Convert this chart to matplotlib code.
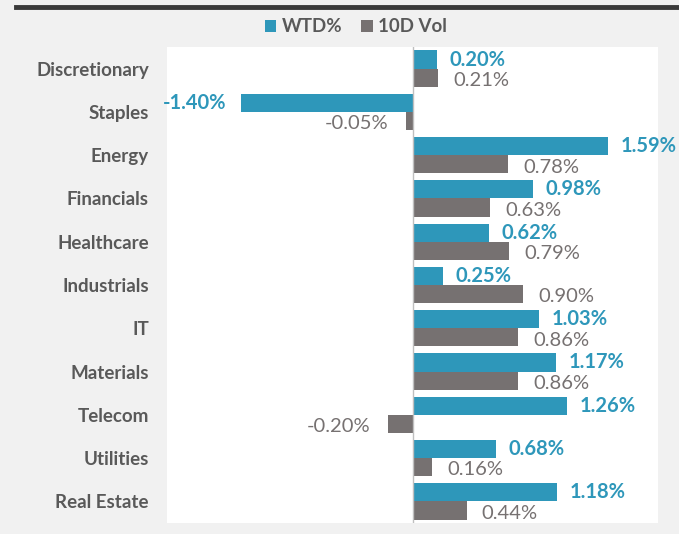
import matplotlib.pyplot as plt
import numpy as np

sectors = ["Discretionary", "Staples", "Energy", "Financials", "Healthcare",
           "Industrials", "IT", "Materials", "Telecom", "Utilities", "Real Estate"]
wtd = [0.20, -1.40, 1.59, 0.98, 0.62, 0.25, 1.03, 1.17, 1.26, 0.68, 1.18]
vol10d = [0.21, -0.05, 0.78, 0.63, 0.79, 0.90, 0.86, 0.86, -0.20, 0.16, 0.44]

teal = "#2E97BA"
gray = "#767171"
font = ["Lato", "DejaVu Sans"]
plt.rcParams['font.family'] = font


def main():
    fig = plt.figure(figsize=(6.79, 5.34), dpi=100, facecolor="#f1f1f1")
    ax = fig.add_axes([167 / 679, 1 - 523 / 534, (658 - 167) / 679, (523 - 47) / 534])
    ax.set_facecolor("white")

    # dark rule across the top
    fig.add_artist(plt.Line2D([16 / 679, 1], [1 - 7 / 534] * 2, color="#3a3a3a", lw=3.5))

    y = np.arange(len(sectors))
    h = 0.42
    b1 = ax.barh(y - 0.21, wtd, h, color=teal, label="WTD%")
    b2 = ax.barh(y + 0.21, vol10d, h, color=gray, label="10D Vol")

    for i, v in enumerate(wtd):
        off = 9 if v >= 0 else -10
        ax.annotate(f"{v:.2f}%", (v, y[i] - 0.21), xytext=(off, 0), textcoords="offset points",
                    ha="left" if v >= 0 else "right", va="center", color=teal,
                    fontsize=14.5, fontweight="bold")
    for i, v in enumerate(vol10d):
        off = 11 if v >= 0 else -13
        ax.annotate(f"{v:.2f}%", (v, y[i] + 0.21), xytext=(off, -2), textcoords="offset points",
                    ha="left" if v >= 0 else "right", va="center", color=gray,
                    fontsize=14.5)

    ax.set_xlim(-2, 2)
    ax.set_ylim(len(sectors) - 0.5, -0.5)
    ax.axvline(0, color="#bfbfbf", lw=1)
    ax.set_xticks([])
    ax.set_yticks(y)
    ax.set_yticklabels(sectors, fontsize=13.5, fontweight="bold", color="#595959")
    ax.tick_params(axis="y", length=0, pad=13)
    for s in ax.spines.values():
        s.set_visible(False)

    fig.legend(handles=[b1, b2], loc="center", bbox_to_anchor=(356 / 679, 1 - 27 / 534), ncol=2,
               frameon=False, handlelength=0.6, handleheight=0.6, handletextpad=0.3,
               columnspacing=1.0, prop={"size": 13.5, "weight": "bold"}, labelcolor="#595959")

    fig.savefig("out.png", dpi=100, facecolor=fig.get_facecolor())


if __name__ == "__main__":
    main()
